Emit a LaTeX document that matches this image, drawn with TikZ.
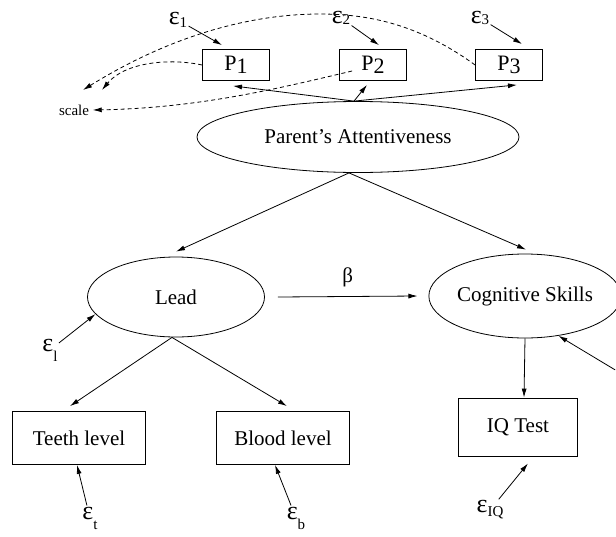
\documentclass[tikz,border=0pt]{standalone}
\usepackage{fontspec}
\setmainfont{Liberation Serif}
\usepackage{tikz}
\usetikzlibrary{shapes.geometric}
\usetikzlibrary{arrows.meta}

\newcommand{\err}[2][3pt]{{\fontsize{26}{26}\selectfont ε}\raisebox{-#1}{\fontsize{15}{15}\selectfont #2}}
\newcommand{\obs}[1]{P\raisebox{-3pt}{#1}}

\tikzset{
    latent/.style={draw,ellipse,inner sep=0pt},
    manifest/.style={draw,rectangle,inner sep=0pt},
    errlbl/.style={inner sep=1pt},
    dashlink/.style={dash pattern=on 4pt off 3pt,->},
}

\begin{document}
\begin{tikzpicture}[x=1pt,y=-1pt,line width=0.8pt,>={Latex[length=9pt,width=5pt]},
        every node/.style={font=\fontsize{21}{25}\selectfont}]
        \useasboundingbox (0,0) rectangle (616,536);

        \node[manifest,minimum width=67,minimum height=31,font=\fontsize{22}{26}\selectfont] (p1) at (236,65) {\obs{1}};
        \node[manifest,minimum width=67,minimum height=31,font=\fontsize{22}{26}\selectfont] (p2) at (373,65) {\obs{2}};
        \node[manifest,minimum width=67,minimum height=31,font=\fontsize{22}{26}\selectfont] (p3) at (509,65) {\obs{3}};
        \node[font=\fontsize{15}{18}\selectfont] (scale) at (74,110) {scale};

        \node[latent,minimum width=322,minimum height=71] (pa) at (358,137) {Parent's Attentiveness};
        \node[latent,minimum width=177,minimum height=80] (lead) at (176,297) {Lead};
        \node[latent,minimum width=177,minimum height=84] (cog) at (525,296) {Cognitive Skills};

        \node[manifest,minimum width=133,minimum height=53] (teeth) at (79,438) {Teeth level};
        \node[manifest,minimum width=133,minimum height=53] (blood) at (283,438) {Blood level};
        \node[manifest,minimum width=119,minimum height=58] (iq) at (518,427) {IQ Test};

        % error terms
        \node[errlbl] (e1) at (178,20) {\err{1}};
        \node[errlbl] (e2) at (341,18) {\err[1pt]{2}};
        \node[errlbl] (e3) at (480,18) {\err[1pt]{3}};
        \node[errlbl] (el) at (50,350) {\err[10pt]{l}};
        \node[errlbl] (et) at (90,518) {\err[10pt]{t}};
        \node[errlbl] (eb) at (296,518) {\err[10pt]{b}};
        \node[errlbl] (eiq) at (490,510) {\err[4pt]{IQ}};
        \node[errlbl] (ec) at (622,374) {\fontsize{26}{26}\selectfont ε};

        \draw[->] (e1) -- ([shift={(-14,-4)}]p1.north);
        \draw[->] (e2) -- ([shift={(6,-4)}]p2.north);
        \draw[->] (e3) -- ([shift={(13,-5)}]p3.north);
        \draw[->] (el) -- (lead.192);
        \draw[->] (ec) -- (cog.310);
        \draw[->] (et) -- ([shift={(-2,0)}]teeth.south);
        \draw[->] (eb) -- ([shift={(-8,0)}]blood.south);
        \draw[->] (eiq) -- ([shift={(10,7)}]iq.south);

        % loadings
        \draw[->] ([xshift=-4]pa.north) -- ([shift={(-3,5)}]p1.south);
        \draw[->] ([xshift=-4]pa.north) -- ([shift={(-6,4)}]p2.south);
        \draw[->] ([xshift=-4]pa.north) -- ([shift={(8,4)}]p3.south);
        \draw[->] ([xshift=-9]pa.south) -- ([shift={(0,-5)}]lead.north);
        \draw[->] ([xshift=-9]pa.south) -- ([shift={(1,-4)}]cog.north);
        \draw[->] ([xshift=-4]lead.south) -- ([shift={(-9,-5)}]teeth.north);
        \draw[->] ([xshift=-4]lead.south) -- ([shift={(4,-5)}]blood.north);
        \draw[->] (cog.south) -- ([shift={(6,0)}]iq.north);
        \draw[->] ([xshift=13]lead.east) -- node[above=6pt]{β} ([xshift=-11]cog.west);

        % scale
        \draw[dashlink] (p1.west) .. controls (170,58) and (125,62) .. ([shift={(28,-11)}]scale.north);
        \draw[dashlink] (p3.west) .. controls (420,25) and (370,14) .. (320,14)
            .. controls (250,14) and (170,36) .. ([shift={(9,-11)}]scale.north);
        \draw[dashlink] ([shift={(13,6)}]p2.west) .. controls (280,88) and (200,108) .. (scale.east);
    \end{tikzpicture}
\end{document}
